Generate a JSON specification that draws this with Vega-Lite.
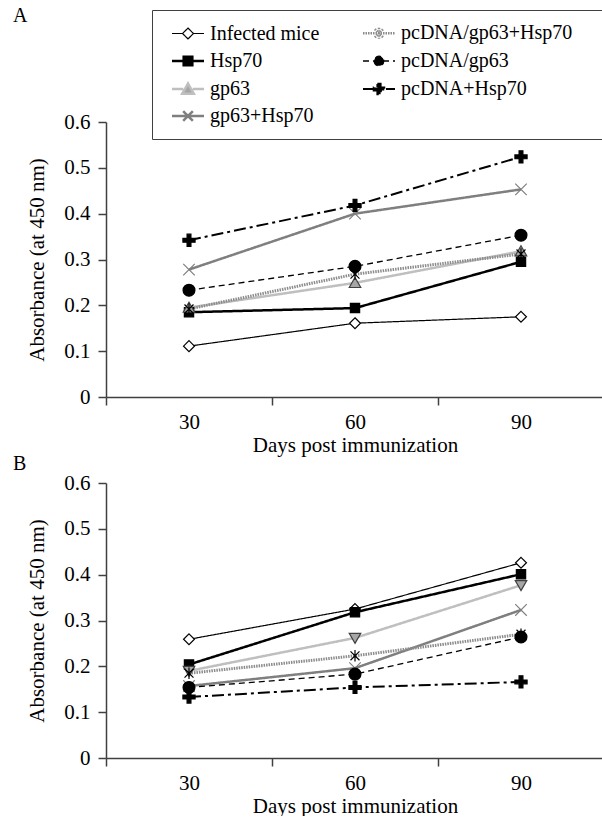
{
  "$schema": "https://vega.github.io/schema/vega-lite/v6.json",
  "padding": {"left": 13, "top": 5, "right": 0, "bottom": 0},
  "background": "white",
  "config": {
    "font": "Liberation Serif",
    "view": {"stroke": null},
    "axis": {"labelFont": "Liberation Serif", "labelFontSize": 21, "titleFont": "Liberation Serif", "titleFontSize": 21, "titleFontWeight": "normal", "labelColor": "#000", "titleColor": "#000", "domainColor": "#404040", "tickColor": "#404040", "domainWidth": 1.5, "tickWidth": 1.5, "tickSize": 8, "grid": false},
    "title": {"font": "Liberation Serif", "fontSize": 20, "fontWeight": "normal", "anchor": "start", "frame": "group", "color": "#000"},
    "concat": {"spacing": -1}
  },
  "datasets": {
    "panelA": [
      {"series": "Infected mice", "day": 30, "value": 0.111},
      {"series": "Infected mice", "day": 60, "value": 0.161},
      {"series": "Infected mice", "day": 90, "value": 0.175},
      {"series": "Hsp70", "day": 30, "value": 0.185},
      {"series": "Hsp70", "day": 60, "value": 0.194},
      {"series": "Hsp70", "day": 90, "value": 0.295},
      {"series": "gp63", "day": 30, "value": 0.195},
      {"series": "gp63", "day": 60, "value": 0.249},
      {"series": "gp63", "day": 90, "value": 0.318},
      {"series": "gp63+Hsp70", "day": 30, "value": 0.278},
      {"series": "gp63+Hsp70", "day": 60, "value": 0.400},
      {"series": "gp63+Hsp70", "day": 90, "value": 0.453},
      {"series": "pcDNA/gp63+Hsp70", "day": 30, "value": 0.192},
      {"series": "pcDNA/gp63+Hsp70", "day": 60, "value": 0.268},
      {"series": "pcDNA/gp63+Hsp70", "day": 90, "value": 0.312},
      {"series": "pcDNA/gp63", "day": 30, "value": 0.233},
      {"series": "pcDNA/gp63", "day": 60, "value": 0.285},
      {"series": "pcDNA/gp63", "day": 90, "value": 0.353},
      {"series": "pcDNA+Hsp70", "day": 30, "value": 0.342},
      {"series": "pcDNA+Hsp70", "day": 60, "value": 0.418},
      {"series": "pcDNA+Hsp70", "day": 90, "value": 0.524}
    ],
    "panelB": [
      {"series": "Infected mice", "day": 30, "value": 0.259},
      {"series": "Infected mice", "day": 60, "value": 0.325},
      {"series": "Infected mice", "day": 90, "value": 0.426},
      {"series": "Hsp70", "day": 30, "value": 0.204},
      {"series": "Hsp70", "day": 60, "value": 0.318},
      {"series": "Hsp70", "day": 90, "value": 0.401},
      {"series": "gp63", "day": 30, "value": 0.190},
      {"series": "gp63", "day": 60, "value": 0.262},
      {"series": "gp63", "day": 90, "value": 0.377},
      {"series": "gp63+Hsp70", "day": 30, "value": 0.157},
      {"series": "gp63+Hsp70", "day": 60, "value": 0.196},
      {"series": "gp63+Hsp70", "day": 90, "value": 0.323},
      {"series": "pcDNA/gp63+Hsp70", "day": 30, "value": 0.185},
      {"series": "pcDNA/gp63+Hsp70", "day": 60, "value": 0.223},
      {"series": "pcDNA/gp63+Hsp70", "day": 90, "value": 0.270},
      {"series": "pcDNA/gp63", "day": 30, "value": 0.154},
      {"series": "pcDNA/gp63", "day": 60, "value": 0.183},
      {"series": "pcDNA/gp63", "day": 90, "value": 0.264},
      {"series": "pcDNA+Hsp70", "day": 30, "value": 0.133},
      {"series": "pcDNA+Hsp70", "day": 60, "value": 0.154},
      {"series": "pcDNA+Hsp70", "day": 90, "value": 0.166}
    ]
  },
  "resolve": {
    "scale": {"color": "independent", "strokeDash": "independent", "fill": "independent", "stroke": "independent", "shape": "independent"},
    "legend": {"color": "independent", "strokeDash": "independent", "fill": "independent", "stroke": "independent", "shape": "independent"}
  },
  "vconcat": [
    {
      "title": {"text": "A", "dx": -93, "offset": -16},
      "width": 498,
      "height": 275,
      "data": {"name": "panelA"},
      "encoding": {
        "x": {"field": "day", "type": "ordinal", "scale": {"type": "band", "paddingInner": 0, "paddingOuter": 0}, "axis": {"tickBand": "extent", "labelAngle": 0, "title": "Days post immunization", "labelPadding": 6, "titlePadding": 2}},
        "y": {"field": "value", "type": "quantitative", "scale": {"domain": [0, 0.6], "nice": false, "zero": true}, "axis": {"values": [0, 0.1, 0.2, 0.3, 0.4, 0.5, 0.6], "format": "~g", "title": "Absorbance (at 450 nm)", "labelPadding": 8, "titlePadding": 16}}
      },
      "layer": [
        {
          "mark": {"type": "line"},
          "encoding": {
            "color": {"field": "series", "type": "nominal",
              "scale": {"domain": ["Infected mice", "Hsp70", "gp63", "gp63+Hsp70", "pcDNA/gp63+Hsp70", "pcDNA/gp63", "pcDNA+Hsp70"], "range": ["#000000", "#000000", "#bfbfbf", "#7f7f7f", "#8c8c8c", "#000000", "#000000"]},
              "legend": {"orient": "none", "legendX": 46, "legendY": -112, "columns": 2, "title": ".", "titleColor": "transparent", "titleOrient": "right", "titlePadding": 18, "titleFontSize": 20, "symbolSize": 1024, "symbolOffset": 13, "labelOffset": 12, "labelFont": "Liberation Serif", "labelFontSize": 20, "labelColor": "#000", "labelLimit": 400, "columnPadding": 36, "rowPadding": 7, "padding": 13, "strokeColor": "#404040",
                "encode": {"symbols": {"update": {
                  "strokeWidth": {"signal": "datum.value === 'Infected mice' ? 1.2 : datum.value === 'pcDNA/gp63' ? 1.3 : datum.value === 'pcDNA+Hsp70' ? 2 : 2.5"},
                  "shape": {"signal": "datum.value === 'Infected mice' ? 'M-1,0L-0.34,0M0.34,0L1,0M0,-0.34L0.34,0L0,0.34L-0.34,0Z' : datum.value === 'Hsp70' ? 'M-1,0L1,0M-0.27,-0.27L0.27,-0.27L0.27,0.27L-0.27,0.27Z' : datum.value === 'gp63' ? 'M-1,0L-0.3,0M0.3,0L1,0M0,-0.34L0.36,0.29L-0.36,0.29Z' : datum.value === 'gp63+Hsp70' ? 'M-1,0L1,0M-0.3,-0.3L0.3,0.3M-0.3,0.3L0.3,-0.3' : datum.value === 'pcDNA/gp63+Hsp70' ? 'M-1,0L1,0M-0.26,-0.26L0.26,0.26M-0.26,0.26L0.26,-0.26M0,-0.34L0,0.34' : datum.value === 'pcDNA/gp63' ? 'M-1,0L1,0M-0.3,0A0.3,0.3,0,1,0,0.3,0A0.3,0.3,0,1,0,-0.3,0Z' : 'M-1,0L1,0M-0.1,-0.33L0.1,-0.33L0.1,-0.1L0.33,-0.1L0.33,0.1L0.1,0.1L0.1,0.33L-0.1,0.33L-0.1,0.1L-0.33,0.1L-0.33,-0.1L-0.1,-0.1Z'"},
                  "fill": {"signal": "datum.value === 'Infected mice' ? '#ffffff' : datum.value === 'gp63' ? '#a6a6a6' : (datum.value === 'gp63+Hsp70' || datum.value === 'pcDNA/gp63+Hsp70') ? 'transparent' : '#000000'"},
                  "opacity": {"value": 1}
                }}}}},
            "strokeDash": {"field": "series", "type": "nominal",
              "scale": {"domain": ["Infected mice", "Hsp70", "gp63", "gp63+Hsp70", "pcDNA/gp63+Hsp70", "pcDNA/gp63", "pcDNA+Hsp70"], "range": [[1, 0], [1, 0], [1, 0], [1, 0], [1.5, 1], [6, 4], [12, 4, 3, 4]]}},
            "strokeWidth": {"condition": [
              {"test": "datum.series === 'Infected mice'", "value": 1.2},
              {"test": "datum.series === 'pcDNA/gp63'", "value": 1.3},
              {"test": "datum.series === 'pcDNA+Hsp70'", "value": 2},
              {"test": "datum.series === 'pcDNA/gp63+Hsp70'", "value": 3}
            ], "value": 2.5}
          }
        },
        {
          "mark": {"type": "point", "filled": true, "size": 1024, "strokeWidth": 1.2, "opacity": 1},
          "encoding": {
            "shape": {"condition": [
              {"test": "datum.series === 'Infected mice'", "value": "M0,-0.34L0.34,0L0,0.34L-0.34,0Z"},
              {"test": "datum.series === 'Hsp70'", "value": "M-0.29,-0.29H0.29V0.29H-0.29Z"},
              {"test": "datum.series === 'gp63'", "value": "M0,-0.34L0.36,0.29H-0.36Z"},
              {"test": "datum.series === 'gp63+Hsp70'", "value": "M-0.36,-0.36L0.36,0.36M-0.36,0.36L0.36,-0.36"},
              {"test": "datum.series === 'pcDNA/gp63+Hsp70'", "value": "M-0.28,-0.28L0.28,0.28M-0.28,0.28L0.28,-0.28M0,-0.36V0.36"},
              {"test": "datum.series === 'pcDNA/gp63'", "value": "M-0.37,0A0.37,0.37,0,1,0,0.37,0A0.37,0.37,0,1,0,-0.37,0Z"}
            ], "value": "M-0.12,-0.38H0.12V-0.12H0.38V0.12H0.12V0.38H-0.12V0.12H-0.38V-0.12H-0.12Z"},
            "fill": {"condition": [
              {"test": "datum.series === 'Infected mice'", "value": "#ffffff"},
              {"test": "datum.series === 'gp63'", "value": "#a6a6a6"},
              {"test": "datum.series === 'gp63+Hsp70' || datum.series === 'pcDNA/gp63+Hsp70'", "value": "transparent"}
            ], "value": "#000000"},
            "stroke": {"condition": [
              {"test": "datum.series === 'gp63'", "value": "#404040"},
              {"test": "datum.series === 'gp63+Hsp70'", "value": "#7f7f7f"}
            ], "value": "#000000"}
          }
        }
      ]
    },
    {
      "title": {"text": "B", "dx": -93, "offset": -2},
      "width": 498,
      "height": 275,
      "data": {"name": "panelB"},
      "encoding": {
        "x": {"field": "day", "type": "ordinal", "scale": {"type": "band", "paddingInner": 0, "paddingOuter": 0}, "axis": {"tickBand": "extent", "labelAngle": 0, "title": "Days post immunization", "labelPadding": 6, "titlePadding": 2}},
        "y": {"field": "value", "type": "quantitative", "scale": {"domain": [0, 0.6], "nice": false, "zero": true}, "axis": {"values": [0, 0.1, 0.2, 0.3, 0.4, 0.5, 0.6], "format": "~g", "title": "Absorbance (at 450 nm)", "labelPadding": 8, "titlePadding": 16}}
      },
      "layer": [
        {
          "mark": {"type": "line"},
          "encoding": {
            "color": {"field": "series", "type": "nominal", "legend": null,
              "scale": {"domain": ["Infected mice", "Hsp70", "gp63", "gp63+Hsp70", "pcDNA/gp63+Hsp70", "pcDNA/gp63", "pcDNA+Hsp70"], "range": ["#000000", "#000000", "#bfbfbf", "#7f7f7f", "#8c8c8c", "#000000", "#000000"]}},
            "strokeDash": {"field": "series", "type": "nominal", "legend": null,
              "scale": {"domain": ["Infected mice", "Hsp70", "gp63", "gp63+Hsp70", "pcDNA/gp63+Hsp70", "pcDNA/gp63", "pcDNA+Hsp70"], "range": [[1, 0], [1, 0], [1, 0], [1, 0], [1.5, 1], [6, 4], [12, 4, 3, 4]]}},
            "strokeWidth": {"condition": [
              {"test": "datum.series === 'Infected mice'", "value": 1.2},
              {"test": "datum.series === 'pcDNA/gp63'", "value": 1.3},
              {"test": "datum.series === 'pcDNA+Hsp70'", "value": 2},
              {"test": "datum.series === 'pcDNA/gp63+Hsp70'", "value": 3}
            ], "value": 2.5}
          }
        },
        {
          "mark": {"type": "point", "filled": true, "size": 1024, "strokeWidth": 1.2, "opacity": 1},
          "encoding": {
            "shape": {"condition": [
              {"test": "datum.series === 'Infected mice'", "value": "M0,-0.34L0.34,0L0,0.34L-0.34,0Z"},
              {"test": "datum.series === 'Hsp70'", "value": "M-0.29,-0.29H0.29V0.29H-0.29Z"},
              {"test": "datum.series === 'gp63'", "value": "M0,0.34L0.36,-0.29H-0.36Z"},
              {"test": "datum.series === 'gp63+Hsp70'", "value": "M-0.36,-0.36L0.36,0.36M-0.36,0.36L0.36,-0.36"},
              {"test": "datum.series === 'pcDNA/gp63+Hsp70'", "value": "M-0.28,-0.28L0.28,0.28M-0.28,0.28L0.28,-0.28M0,-0.36V0.36"},
              {"test": "datum.series === 'pcDNA/gp63'", "value": "M-0.37,0A0.37,0.37,0,1,0,0.37,0A0.37,0.37,0,1,0,-0.37,0Z"}
            ], "value": "M-0.12,-0.38H0.12V-0.12H0.38V0.12H0.12V0.38H-0.12V0.12H-0.38V-0.12H-0.12Z"},
            "fill": {"condition": [
              {"test": "datum.series === 'Infected mice'", "value": "#ffffff"},
              {"test": "datum.series === 'gp63'", "value": "#a6a6a6"},
              {"test": "datum.series === 'gp63+Hsp70' || datum.series === 'pcDNA/gp63+Hsp70'", "value": "transparent"}
            ], "value": "#000000"},
            "stroke": {"condition": [
              {"test": "datum.series === 'gp63'", "value": "#404040"},
              {"test": "datum.series === 'gp63+Hsp70'", "value": "#7f7f7f"}
            ], "value": "#000000"}
          }
        }
      ]
    }
  ]
}
